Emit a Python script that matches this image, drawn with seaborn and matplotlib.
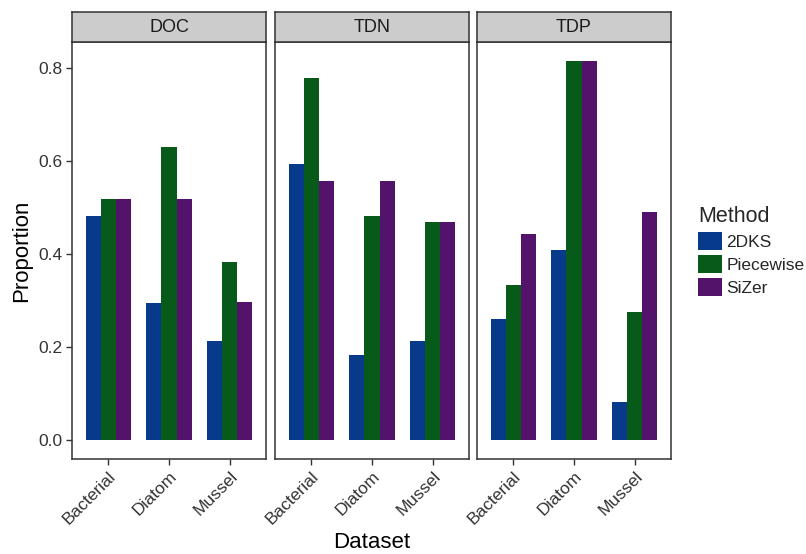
import numpy as np
import pandas as pd
import matplotlib
matplotlib.use("Agg")
import matplotlib.pyplot as plt
from matplotlib.patches import Patch
import seaborn as sns

sns.set_style("white")
plt.rcParams['font.family'] = ['Liberation Sans', 'DejaVu Sans']

facets = ["DOC", "TDN", "TDP"]
datasets = ["Bacterial", "Diatom", "Mussel"]
methods = ["2DKS", "Piecewise", "SiZer"]
doc_2dks = [0.481, 0.294, 0.212]
doc_piece = [0.517, 0.629, 0.382]
doc_sizer = [0.517, 0.517, 0.297]
tdn_2dks = [0.592, 0.183, 0.212]
tdn_piece = [0.777, 0.481, 0.469]
tdn_sizer = [0.556, 0.556, 0.469]
tdp_2dks = [0.259, 0.408, 0.082]
tdp_piece = [0.333, 0.814, 0.275]
tdp_sizer = [0.443, 0.814, 0.490]

colors = ["#083A8C", "#085A1A", "#54136A"]

rows = []
for f, vals in zip(facets, [(doc_2dks, doc_piece, doc_sizer),
                            (tdn_2dks, tdn_piece, tdn_sizer),
                            (tdp_2dks, tdp_piece, tdp_sizer)]):
    for m, v in zip(methods, vals):
        for d, x in zip(datasets, v):
            rows.append({"Facet": f, "Dataset": d, "Method": m, "Proportion": x})
df = pd.DataFrame(rows)

W, H = 806, 554
fig = plt.figure(figsize=(W / 100, H / 100), dpi=100)

lefts = [72, 275, 477]
pw = 194
top_px, bot_px = 42, 459
strip_h = 30
tc = "#333333"
for i, f in enumerate(facets):
    ax = fig.add_axes([lefts[i] / W, (H - bot_px) / H, pw / W, (bot_px - top_px) / H])
    sub = df[df.Facet == f]
    sns.barplot(data=sub, x="Dataset", y="Proportion", hue="Method", order=datasets,
                hue_order=methods, palette=colors, width=0.75, ax=ax, legend=False,
                errorbar=None, saturation=1, linewidth=0)
    ax.set_xlim(-0.6, 2.6)
    ax.set_ylim(-0.0407, 0.855)
    ax.set_yticks([0.0, 0.2, 0.4, 0.6, 0.8])
    for s in ax.spines.values():
        s.set_visible(True)
        s.set_color(tc)
        s.set_linewidth(1.1)
    ax.tick_params(axis="both", which="both", length=4, width=1, color=tc,
                   direction="out", bottom=True, left=(i == 0), labelsize=12.5,
                   labelcolor=tc, pad=3)
    ax.set_xticks(range(3))
    ax.set_xticklabels(datasets, rotation=45, ha="right", rotation_mode="anchor")
    if i == 0:
        ax.set_yticklabels(["0.0", "0.2", "0.4", "0.6", "0.8"])
        ax.set_ylabel("Proportion", fontsize=16, color="black", labelpad=4)
    else:
        ax.set_yticklabels([])
        ax.set_ylabel("")
    ax.set_xlabel("")
    sax = fig.add_axes([lefts[i] / W, (H - top_px) / H, pw / W, strip_h / H])
    sax.set_xticks([]); sax.set_yticks([])
    sax.set_facecolor("#CCCCCC")
    for s in sax.spines.values():
        s.set_visible(True)
        s.set_color(tc)
        s.set_linewidth(1.1)
    sax.text(0.5, 0.48, f, ha="center", va="center", fontsize=13, color="#1a1a1a",
             transform=sax.transAxes)

fig.text((lefts[0] + (lefts[2] + pw)) / 2 / W, 1 - 553 / H, "Dataset", ha="center",
         va="bottom", fontsize=16, color="black")

handles = [Patch(facecolor=c, edgecolor="none", label=m) for c, m in zip(colors, methods)]
leg = fig.legend(handles=handles, title="Method", loc="upper left",
                 bbox_to_anchor=(691 / W, 1 - 199 / H), frameon=False, fontsize=12.5,
                 title_fontsize=15.5, handlelength=1.4, handleheight=1.2,
                 handletextpad=0.25, labelspacing=0.3, borderaxespad=0)
leg._legend_box.align = "left"

fig.savefig("out.png", dpi=100)
